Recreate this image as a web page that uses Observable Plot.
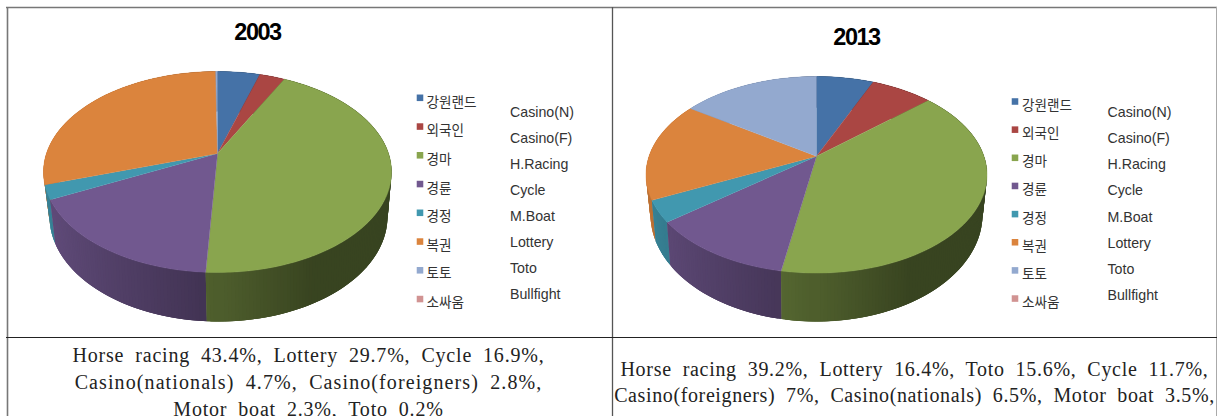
<!DOCTYPE html>
<html><head><meta charset="utf-8">
<script src="https://cdn.jsdelivr.net/npm/d3@7"></script>
<script src="https://cdn.jsdelivr.net/npm/@observablehq/plot@0.6"></script>
<style>html,body{margin:0;padding:0;background:#fff;overflow:hidden}</style>
</head><body><div id="chart"></div>
<script>
const namesKo = ["강원랜드","외국인","경마","경륜","경정","복권","토토","소싸움"];
const namesEn = ["Casino(N)","Casino(F)","H.Racing","Cycle","M.Boat","Lottery","Toto","Bullfight"];
const colors = ["#4572A7","#AA4643","#89A54E","#71588F","#4198AF","#DB843D","#93A9CF","#D19392"];
const values2003 = [4.7,2.8,43.4,16.9,2.3,29.7,0.2,0];
const values2013 = [6.5,7,39.2,11.7,3.5,16.4,15.6,0];
const captionLeft = ["Horse racing 43.4%, Lottery 29.7%, Cycle 16.9%,","Casino(nationals) 4.7%, Casino(foreigners) 2.8%,","Motor boat 2.3%, Toto 0.2%"];
const captionRight = ["Horse racing 39.2%, Lottery 16.4%, Toto 15.6%, Cycle 11.7%,","Casino(foreigners) 7%, Casino(nationals) 6.5%, Motor boat 3.5%,"];

const W = 1217, H = 416;
// perspective disc: cx, ellipse centre y, rx, ry, c
const pies = [
  {year:"2003", values:values2003,
   top:{cx:217,cy:171.5,rx:174,ry:100.5,c:.184}, bottom:{cx:218,cy:216,rx:169,ry:105,c:.2},
   title:{x:257,y:32}, swatch:{x:419.5,y:97.3,dy:28.75}, ko:{x:426,y:102,dy:28.6}, en:{x:509.5,y:111.7,dy:26}},
  {year:"2013", values:values2013,
   top:{cx:816,cy:174.3,rx:170.5,ry:98.3,c:.189}, bottom:{cx:816,cy:214,rx:166,ry:107,c:.2},
   title:{x:856,y:36.5}, swatch:{x:1014.5,y:101,dy:28.15}, ko:{x:1021.5,y:105,dy:28.2}, en:{x:1107,y:111.7,dy:26.2}}
];
const project = (d, a) => {
  const u = Math.sin(a), v = Math.cos(a), s = Math.sqrt(1 - d.c*d.c);
  const den = 1 + d.c*v, A = d.ry*s*s, R = d.rx*s;
  return {x: d.cx + R*u/den, y: d.cy - d.ry*d.c - A*v/den};
};
const shade = d3.scaleLinear().domain([-1,-.1,.45]).range([.88,.6,.41]).clamp(true);
const darken = (hex, f) => { const c = d3.rgb(hex); return d3.rgb(c.r*f,c.g*f,c.b*f).formatHex(); };

const topPts = [], sidePts = [];
let id = 0;
for (const p of pies) {
  const total = d3.sum(p.values);
  let cum = 0;
  const sideQuads = [];
  p.values.forEach((val, i) => {
    if (!val) return;
    const a0 = cum/total*2*Math.PI; cum += val;
    const a1 = cum/total*2*Math.PI;
    const key = ++id;
    const n = Math.max(2, Math.ceil((a1-a0)/(Math.PI/180)));
    const cy0 = p.top.cy - p.top.ry*p.top.c;
    topPts.push({x:p.top.cx, y:cy0, k:key, col:colors[i]});
    for (let j=0;j<=n;j++){ const q = project(p.top, a0+(a1-a0)*j/n); topPts.push({x:q.x,y:q.y,k:key,col:colors[i]}); }
    const m = Math.max(1, Math.ceil((a1-a0)/(Math.PI/180)));
    const step = (a1-a0)/m;
    for (let j=0;j<m;j++){
      const b0=a0+step*j, b1=a0+step*(j+1), mid=(b0+b1)/2;
      const over = Math.min(a1, b1+step), under = Math.max(a0, b0-step);
      const t=project(p.top,under), t2=project(p.top,over), l=project(p.bottom,under), l2=project(p.bottom,over);
      const col=darken(colors[i], shade(Math.sin(mid)));
      sideQuads.push({order:Math.cos(mid), col, pts:[t,t2,l2,l]});
    }
  });
  sideQuads.sort((a,b)=>b.order-a.order).forEach(s=>{
    const key=++id;
    s.pts.forEach(q=>sidePts.push({x:q.x,y:q.y,k:key,col:s.col}));
  });
}

const rows = (arr, o) => arr.map((t,i)=>({t, x:o.x, y:o.y+o.dy*i, col:colors[i]}));
const sans = "'Liberation Sans', Arial, sans-serif";
const ko = "'Noto Sans CJK KR', sans-serif";
const serif = "'Liberation Serif', serif";

const marks = [
  Plot.ruleY([7],{x1:6,x2:W,stroke:"#777",strokeWidth:1.6}),
  Plot.ruleX([7],{y1:7,y2:H,stroke:"#777",strokeWidth:1.6}),
  Plot.ruleX([612],{y1:7,y2:H,stroke:"#555",strokeWidth:1.3}),
  Plot.ruleX([1216],{y1:7,y2:H,stroke:"#aaa",strokeWidth:1}),
  Plot.ruleY([337],{x1:6,x2:W,stroke:"#222",strokeWidth:1.2}),
  Plot.line(sidePts,{x:"x",y:"y",z:"k",fill:"col",stroke:"none",curve:"linear"}),
  Plot.line(topPts,{x:"x",y:"y",z:"k",fill:"col",stroke:"col",strokeWidth:.4,curve:"linear"})
];
for (const p of pies) {
  marks.push(
    Plot.text([p.year],{x:p.title.x,y:p.title.y,text:d=>d,fontFamily:sans,fontWeight:"bold",fontSize:23.5,fill:"#000"}),
    Plot.dot(rows(namesKo,p.swatch),{x:"x",y:"y",fill:"col",symbol:"square",r:3.7,stroke:"none"}),
    Plot.text(rows(namesKo,p.ko),{x:"x",y:"y",text:"t",textAnchor:"start",fontFamily:ko,fontSize:13.6,fill:"#333"}),
    Plot.text(rows(namesEn,p.en),{x:"x",y:"y",text:"t",textAnchor:"start",fontFamily:sans,fontSize:14.2,fill:"#333"})
  );
}
const capStyle = {text:d=>d,fontFamily:serif,fontSize:20,fill:"#222"};
marks.push(
  Plot.text(captionLeft,{...capStyle,x:()=>308,y:(d,i)=>355+26.8*i}),
  Plot.text(captionRight,{...capStyle,x:()=>914,y:(d,i)=>369+26*i})
);

const chart = Plot.plot({
  width:W,height:H,margin:0,
  x:{domain:[0,W],range:[0,W],axis:null},
  y:{domain:[0,H],range:[0,H],axis:null},
  color:{type:"identity"},
  style:{background:"#fff"},
  marks
});
const spacing = new Map([[captionLeft[0],.8],[captionLeft[1],1.1],[captionLeft[2],.8],[captionRight[0],.7],[captionRight[1],.62]]);
const years = new Set(pies.map(p=>p.year));
chart.querySelectorAll("text").forEach(el=>{
  const s = el.textContent;
  if (spacing.has(s)) { el.style.letterSpacing=spacing.get(s)+"px"; el.style.wordSpacing="5.2px"; }
  else if (years.has(s)) { el.style.letterSpacing="-1.5px"; }
});
document.getElementById("chart").appendChild(chart);
</script></body></html>
